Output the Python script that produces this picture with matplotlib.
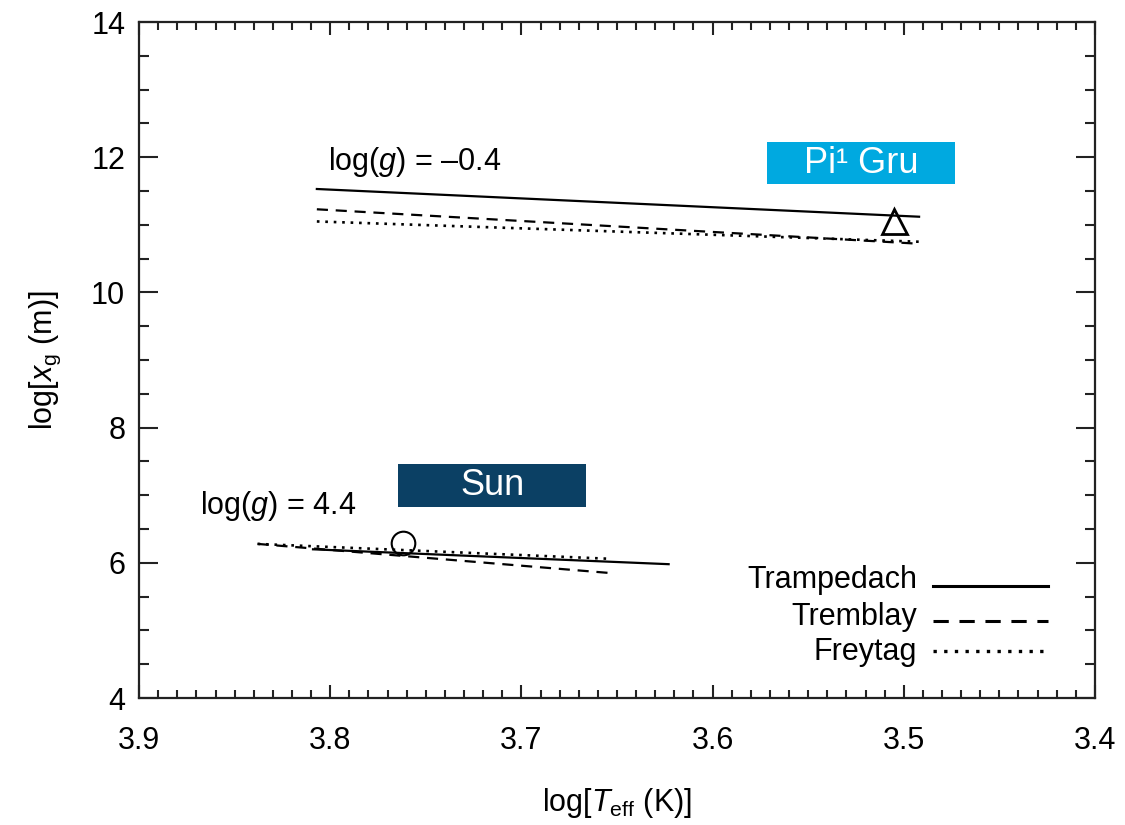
import matplotlib
matplotlib.use("Agg")
import matplotlib.pyplot as plt
from matplotlib.patches import Rectangle
from matplotlib.ticker import MultipleLocator

plt.rcParams['font.family'] = ['Liberation Sans', 'DejaVu Sans']
plt.rcParams['mathtext.fontset'] = 'custom'
plt.rcParams['mathtext.rm'] = 'Liberation Sans'
plt.rcParams['mathtext.it'] = 'Liberation Sans:italic'
plt.rcParams['font.size'] = 22

# Pi1 Gru track, log(g) = -0.4
teff_pi = [3.807, 3.492]
trampedach_pi = [11.53, 11.12]
tremblay_pi = [11.23, 10.72]
freytag_pi = [11.05, 10.75]

# Sun track, log(g) = 4.4
teff_sun_t = [3.809, 3.623]
trampedach_sun = [6.20, 5.98]
teff_sun = [3.838, 3.654]
tremblay_sun = [6.28, 5.85]
freytag_sun = [6.28, 6.06]

# observed stars
pi_gru_point = (3.505, 11.06)
sun_point = (3.762, 6.30)

models = ["Trampedach", "Tremblay", "Freytag"]
styles = ["-", (0, (5, 3.5)), (0, (1, 2.2))]

fig = plt.figure(figsize=(11.25, 8.25), dpi=100)
ax = fig.add_axes([0.1236, 0.1539, 0.8497, 0.8194])

lw = 1.6
ax.plot(teff_pi, trampedach_pi, color='black', lw=lw, linestyle=styles[0])
ax.plot(teff_pi, tremblay_pi, color='black', lw=lw, linestyle=styles[1])
ax.plot(teff_pi, freytag_pi, color='black', lw=lw + 0.3, linestyle=styles[2])
ax.plot(teff_sun_t, trampedach_sun, color='black', lw=lw, linestyle=styles[0])
ax.plot(teff_sun, tremblay_sun, color='black', lw=lw, linestyle=styles[1])
ax.plot(teff_sun, freytag_sun, color='black', lw=lw + 0.3, linestyle=styles[2])

ax.plot(*pi_gru_point, marker='^', ms=18, mfc='none', mec='black', mew=2)
ax.plot(*sun_point, marker='o', ms=17, mfc='none', mec='black', mew=1.5)

ax.text(3.801, 11.81, r'log($\mathit{g}$) = –0.4', ha='left', va='baseline')
ax.text(3.868, 6.72, r'log($\mathit{g}$) = 4.4', ha='left', va='baseline')

# coloured name tags
ax.add_patch(Rectangle((0.657, 0.760), 0.197, 0.062, transform=ax.transAxes,
                       facecolor='#00a9e0', edgecolor='none'))
ax.text(0.657 + 0.0985, 0.791, 'Pi¹ Gru', transform=ax.transAxes,
        ha='center', va='center', color='white', fontsize=26)
ax.add_patch(Rectangle((0.271, 0.2825), 0.197, 0.0636, transform=ax.transAxes,
                       facecolor='#0b4064', edgecolor='none'))
ax.text(0.271 + 0.0985, 0.3143, 'Sun', transform=ax.transAxes,
        ha='center', va='center', color='white', fontsize=26)

# legend
leg_line_y = [0.1657, 0.1139, 0.0695]
leg_text_y = [0.1627, 0.1080, 0.0562]
for name, ls, ly, ty in zip(models, styles, leg_line_y, leg_text_y):
    ax.plot([0.8305, 0.951], [ly, ly], transform=ax.transAxes, color='black',
            lw=2.2 if ls != styles[2] else 2.4, linestyle=ls)
    ax.text(0.8138, ty, name, transform=ax.transAxes, ha='right', va='baseline')

ax.set_xlim(3.9, 3.4)
ax.set_ylim(4, 14)
ax.xaxis.set_major_locator(MultipleLocator(0.1))
ax.xaxis.set_minor_locator(MultipleLocator(0.01))
ax.yaxis.set_major_locator(MultipleLocator(2))
ax.yaxis.set_minor_locator(MultipleLocator(0.5))
ax.xaxis.set_major_formatter(plt.FuncFormatter(lambda v, p: f"{v:.1f}"))
ax.yaxis.set_major_formatter(plt.FuncFormatter(lambda v, p: f"{v:.0f}"))

ax.tick_params(axis='both', which='both', direction='in', top=True, right=True,
               width=1.5, color='#222222')
ax.tick_params(axis='x', which='major', length=9.5, pad=20)
ax.tick_params(axis='x', which='minor', length=5.5)
ax.tick_params(axis='y', which='major', length=13.5, pad=10)
ax.tick_params(axis='y', which='minor', length=7)
for s in ax.spines.values():
    s.set_linewidth(1.6)
    s.set_color('#222222')

ax.set_xlabel(r'log[$\mathit{T}_{\mathrm{eff}}$ (K)]', labelpad=22)
ax.set_ylabel(r'log[$\mathit{x}_{\mathrm{g}}$ (m)]', labelpad=20)

fig.savefig('out.png', dpi=100)
